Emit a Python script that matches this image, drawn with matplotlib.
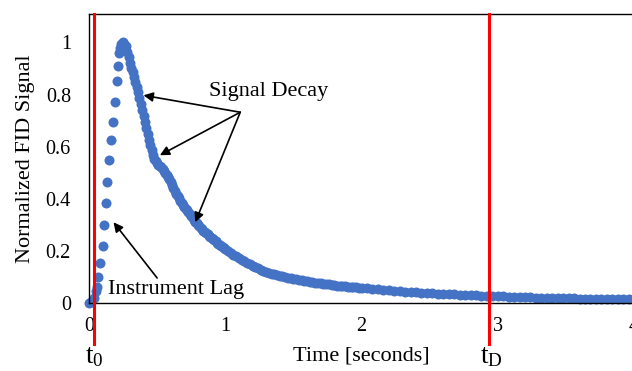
import matplotlib
matplotlib.use('Agg')
from matplotlib import pyplot as plt

plt.rcParams['font.family'] = ['Liberation Serif', 'DejaVu Serif']
plt.rcParams['mathtext.fontset'] = 'custom'
plt.rcParams['mathtext.rm'] = 'Liberation Serif'

# instrument lag (rising part)
rise_t = [0.00, 0.015, 0.035, 0.048, 0.056, 0.066, 0.08, 0.10, 0.113, 0.125,
          0.135, 0.147, 0.16, 0.173, 0.19, 0.203, 0.215, 0.218, 0.228, 0.238]
rise_y = [0.00, 0.005, 0.02, 0.045, 0.06, 0.10, 0.155, 0.22, 0.30, 0.385,
          0.465, 0.55, 0.625, 0.695, 0.77, 0.85, 0.91, 0.96, 0.98, 0.995]

# signal decay
decay_t = [0.25, 0.26, 0.27, 0.28, 0.29, 0.30, 0.31, 0.32, 0.33, 0.34,
           0.35, 0.36, 0.37, 0.38, 0.39, 0.40, 0.41, 0.42, 0.43, 0.44,
           0.45, 0.46, 0.47, 0.48, 0.49, 0.50, 0.51, 0.52, 0.53, 0.54,
           0.55, 0.56, 0.57, 0.58, 0.59, 0.60, 0.61, 0.62, 0.63, 0.64,
           0.65, 0.66, 0.67, 0.68, 0.69, 0.70, 0.71, 0.72, 0.73, 0.74,
           0.75, 0.76, 0.77, 0.78, 0.79, 0.80, 0.81, 0.82, 0.83, 0.84,
           0.85, 0.86, 0.87, 0.88, 0.89, 0.90, 0.91, 0.92, 0.93, 0.94,
           0.95, 0.96, 0.97, 0.98, 0.99, 1.00,
           1.02, 1.04, 1.06, 1.08, 1.10, 1.12, 1.14, 1.16, 1.18, 1.20,
           1.22, 1.24, 1.26, 1.28, 1.30, 1.32, 1.34, 1.36, 1.38, 1.40,
           1.42, 1.44, 1.46, 1.48, 1.50, 1.52, 1.54, 1.56, 1.58, 1.60,
           1.62, 1.64, 1.66, 1.68, 1.70, 1.72, 1.74, 1.76, 1.78, 1.80,
           1.82, 1.84, 1.86, 1.88, 1.90, 1.92, 1.94, 1.96, 1.98, 2.00,
           2.04, 2.08, 2.12, 2.16, 2.20, 2.24, 2.28, 2.32, 2.36, 2.40,
           2.44, 2.48, 2.52, 2.56, 2.60, 2.64, 2.68, 2.72, 2.76, 2.80,
           2.84, 2.88, 2.92, 2.96, 3.00, 3.04, 3.08, 3.12, 3.16, 3.20,
           3.24, 3.28, 3.32, 3.36, 3.40, 3.44, 3.48, 3.52, 3.56, 3.60,
           3.64, 3.68, 3.72, 3.76, 3.80, 3.84, 3.88, 3.92, 3.96, 4.00]
decay_y = [1.000, 0.995, 0.985, 0.965, 0.945, 0.920, 0.902, 0.885, 0.866, 0.848,
           0.830, 0.808, 0.786, 0.765, 0.742, 0.718, 0.694, 0.670, 0.648, 0.626,
           0.605, 0.586, 0.568, 0.553, 0.543, 0.536, 0.531, 0.526, 0.522, 0.516,
           0.508, 0.500, 0.492, 0.485, 0.474, 0.463, 0.452, 0.441, 0.430, 0.420,
           0.411, 0.402, 0.393, 0.384, 0.375, 0.367, 0.361, 0.355, 0.348, 0.341,
           0.333, 0.326, 0.319, 0.312, 0.306, 0.300, 0.294, 0.289, 0.283, 0.278,
           0.273, 0.268, 0.263, 0.258, 0.254, 0.249, 0.245, 0.240, 0.236, 0.232,
           0.228, 0.224, 0.220, 0.216, 0.212, 0.208,
           0.200, 0.193, 0.186, 0.179, 0.172, 0.166, 0.160, 0.154, 0.149, 0.143,
           0.138, 0.133, 0.128, 0.124, 0.120, 0.116, 0.113, 0.110, 0.107, 0.104,
           0.102, 0.099, 0.097, 0.095, 0.093, 0.091, 0.089, 0.087, 0.085, 0.083,
           0.082, 0.080, 0.078, 0.077, 0.075, 0.074, 0.072, 0.071, 0.070, 0.068,
           0.067, 0.066, 0.065, 0.064, 0.063, 0.062, 0.061, 0.060, 0.059, 0.058,
           0.056, 0.054, 0.052, 0.050, 0.048, 0.047, 0.045, 0.044, 0.042, 0.041,
           0.040, 0.038, 0.037, 0.036, 0.035, 0.034, 0.033, 0.032, 0.031, 0.030,
           0.029, 0.028, 0.027, 0.026, 0.026, 0.025, 0.024, 0.024, 0.023, 0.022,
           0.022, 0.021, 0.021, 0.020, 0.020, 0.019, 0.019, 0.018, 0.018, 0.017,
           0.017, 0.017, 0.016, 0.016, 0.016, 0.015, 0.015, 0.015, 0.014, 0.014]

t0 = 0.037
tD = 2.934
xticks = [0, 1, 2, 3, 4]
yticks = [0, 0.2, 0.4, 0.6, 0.8, 1]
ytick_labels = ['0', '0.2', '0.4', '0.6', '0.8', '1']

fig = plt.figure(figsize=(6.32, 3.71), dpi=100)
ax = fig.add_axes([89 / 632, 68 / 371, 545 / 632, 289 / 371])

blue = '#4472C4'
ax.plot(rise_t, rise_y, 'o', color=blue, ms=7.2, mec='none', clip_on=False)
ax.plot(decay_t, decay_y, 'o', color=blue, ms=7.2, mec='none', clip_on=False)

ax.set_xlim(0, 4)
ax.set_ylim(0, 1.109)
ax.set_xticks(xticks)
ax.set_yticks(yticks)
ax.set_yticklabels(ytick_labels)
ax.tick_params(length=0, labelsize=14.5)
ax.tick_params(axis='x', pad=10)
ax.tick_params(axis='y', pad=13)
for s in ax.spines.values():
    s.set_linewidth(1.0)

# red time markers
for x in (t0, tD):
    ax.axvline(x, ymin=-0.141, ymax=1, color='red', lw=2.2, clip_on=False, zorder=5)
ax.text(t0, -0.205, r'$\mathregular{t_0}$', fontsize=19.5, ha='center', va='center')
ax.text(tD + 0.02, -0.205, r'$\mathregular{t_D}$', fontsize=19.5, ha='center', va='center')

ax.set_xlabel('Time [seconds]', fontsize=16, labelpad=8)
ax.set_ylabel('Normalized FID Signal', fontsize=16, labelpad=8)

# annotations
start = (1.11, 0.732)
for tgt in [(0.40, 0.797), (0.52, 0.567), (0.78, 0.31)]:
    ax.annotate('', xy=tgt, xytext=start,
                arrowprops=dict(arrowstyle='-|>', color='black', lw=1.2,
                                mutation_scale=14, shrinkA=0, shrinkB=0))
ax.text(1.32, 0.81, 'Signal Decay', fontsize=16, ha='center', va='center')

ax.annotate('', xy=(0.18, 0.31), xytext=(0.50, 0.096),
            arrowprops=dict(arrowstyle='-|>', color='black', lw=1.2,
                            mutation_scale=14, shrinkA=0, shrinkB=0))
ax.text(0.14, 0.05, 'Instrument Lag', fontsize=16, ha='left', va='center')

plt.savefig('out.png', dpi=100)
